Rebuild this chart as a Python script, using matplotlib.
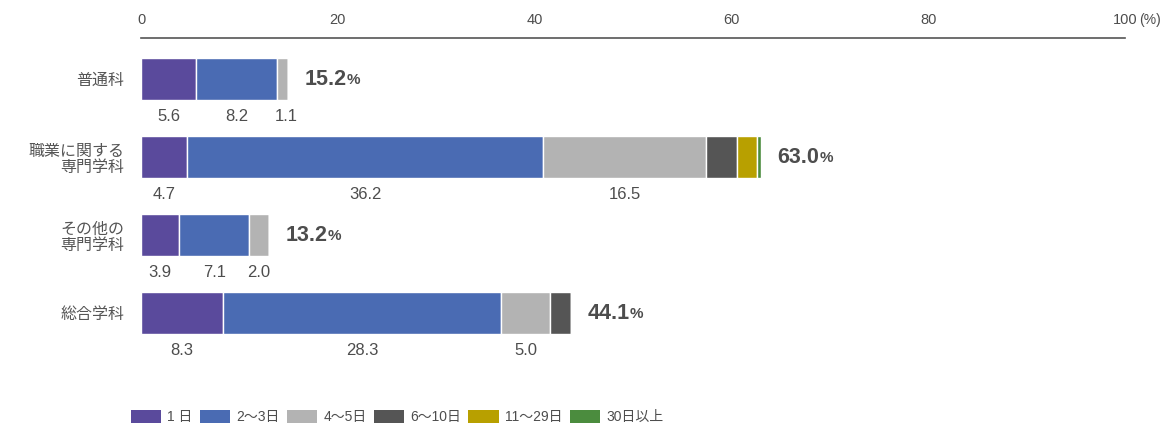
import numpy as np
import matplotlib.pyplot as plt
from matplotlib.patches import Patch

plt.rcParams['font.family'] = ['Liberation Sans', 'Noto Sans CJK JP', 'DejaVu Sans']

# data
categories = ["普通科", "職業に関する\n専門学科", "その他の\n専門学科", "総合学科"]
series_names = ["1 日", "2～3日", "4～5日", "6～10日", "11～29日", "30日以上"]
d1 = [5.6, 4.7, 3.9, 8.3]
d2_3 = [8.2, 36.2, 7.1, 28.3]
d4_5 = [1.1, 16.5, 2.0, 5.0]
d6_10 = [0.0, 3.2, 0.0, 2.1]
d11_29 = [0.0, 2.0, 0.0, 0.0]
d30 = [0.0, 0.4, 0.0, 0.0]
totals = [15.2, 63.0, 13.2, 44.1]
labelled = [True, True, True, False, False, False]  # segments with value labels

colors = ["#5a4a9c", "#4a6bb3", "#b3b3b3", "#555555", "#b8a000", "#4b8c3e"]
txt = "#4d4d4d"

fig = plt.figure(figsize=(11.71, 4.28), dpi=100)
ax = fig.add_axes([141 / 1171, 1 - 370 / 428, (1125 - 141) / 1171, 332 / 428])

series = [d1, d2_3, d4_5, d6_10, d11_29, d30]
y = np.arange(len(categories))
left = np.zeros(len(categories))
for vals, col, name, lab in zip(series, colors, series_names, labelled):
    vals = np.array(vals)
    ax.barh(y, vals, left=left, height=0.53, color=col, edgecolor="white",
            linewidth=1.0, label=name)
    if lab:
        for i, v in enumerate(vals):
            if v <= 0:
                continue
            cx = left[i] + v / 2
            if v < 1.5:
                cx = left[i] + 1.0
            ax.text(cx, y[i] + 0.48, f"{v:.1f}", ha="center", va="center",
                    fontsize=12, color=txt)
    left += vals

for i, t in enumerate(totals):
    end = left[i]
    tx = ax.annotate(f"{t:.1f}", xy=(end, y[i]), xytext=(12, 0),
                     textcoords="offset points", ha="left", va="center",
                     fontsize=15.5, fontweight="bold", color=txt)
    ax.annotate("%", xy=(1, 0.12), xycoords=tx, ha="left", va="bottom",
                fontsize=11, fontweight="bold", color=txt)

ax.set_xlim(0, 100)
ax.set_ylim(3.73, -0.526)
ax.set_yticks(y)
ax.set_yticklabels(categories, fontsize=11.5, color="#555555", linespacing=1.1)
ax.tick_params(axis="y", length=0, pad=12)

ax.xaxis.tick_top()
ax.set_xticks([0, 20, 40, 60, 80, 100])
ax.set_xticklabels(["0", "20", "40", "60", "80", "100"], fontsize=10.5, color=txt)
ax.tick_params(axis="x", length=0, pad=8)
ax.annotate("(%)", xy=(100, 1), xycoords=("data", "axes fraction"),
            xytext=(10, 8), textcoords="offset points", ha="left", va="bottom",
            fontsize=10, color=txt)

for s in ["bottom", "left", "right"]:
    ax.spines[s].set_visible(False)
ax.spines["top"].set_color("#555555")
ax.spines["top"].set_linewidth(1.2)

handles = [Patch(facecolor=c, edgecolor="none") for c in colors]
fig.legend(handles, series_names, loc="center left",
           bbox_to_anchor=(118 / 1171, 1 - 417 / 428), ncol=6, frameon=False,
           fontsize=10, handlelength=2.2, handleheight=1.15, handletextpad=0.45,
           columnspacing=0.5, labelcolor=txt)

fig.savefig("out.png", dpi=100)
